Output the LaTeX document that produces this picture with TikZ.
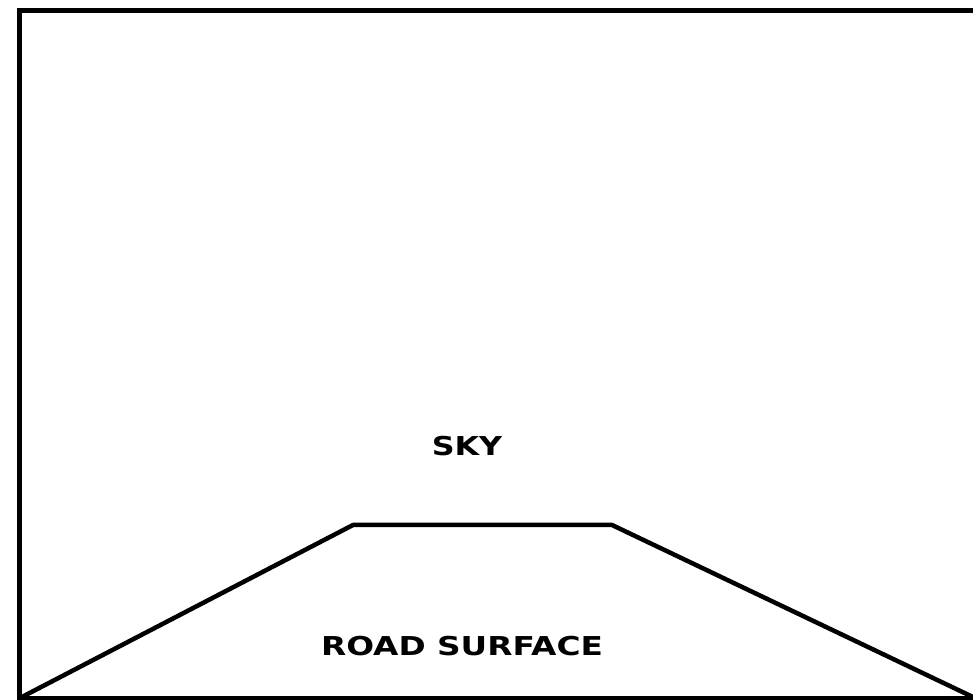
\documentclass[tikz,border=0pt]{standalone}
\usepackage{fontspec}
\usepackage{graphicx}
\setmainfont{DejaVu Sans}
\begin{document}
\begin{tikzpicture}[x=1pt,y=1pt,
  frameline/.style={line width=5pt,line join=miter},
  roadline/.style={line width=4.5pt,line join=round},
  label/.style={font=\bfseries\fontsize{26}{26}\selectfont,inner sep=0pt}]
\useasboundingbox (0,0) rectangle (973,700);
\fill[white] (0,0) rectangle (973,700);
% frame (right side lies beyond the picture)
\draw[frameline] (990,689) -- (19,689) -- (19,1.5) -- (990,1.5);
% road outline
\coordinate (bl) at (20,2);
\coordinate (tl) at (353,175);
\coordinate (tr) at (612,175);
\coordinate (br) at (975,2);
\draw[roadline] (bl) -- (tl) -- (tr) -- (br);
% labels
\node[label] (sky) at (467,254) {\scalebox{1.22}[1]{SKY}};
\node[label] (road) at (462,54) {\scalebox{1.26}[1]{ROAD SURFACE}};
\end{tikzpicture}
\end{document}
